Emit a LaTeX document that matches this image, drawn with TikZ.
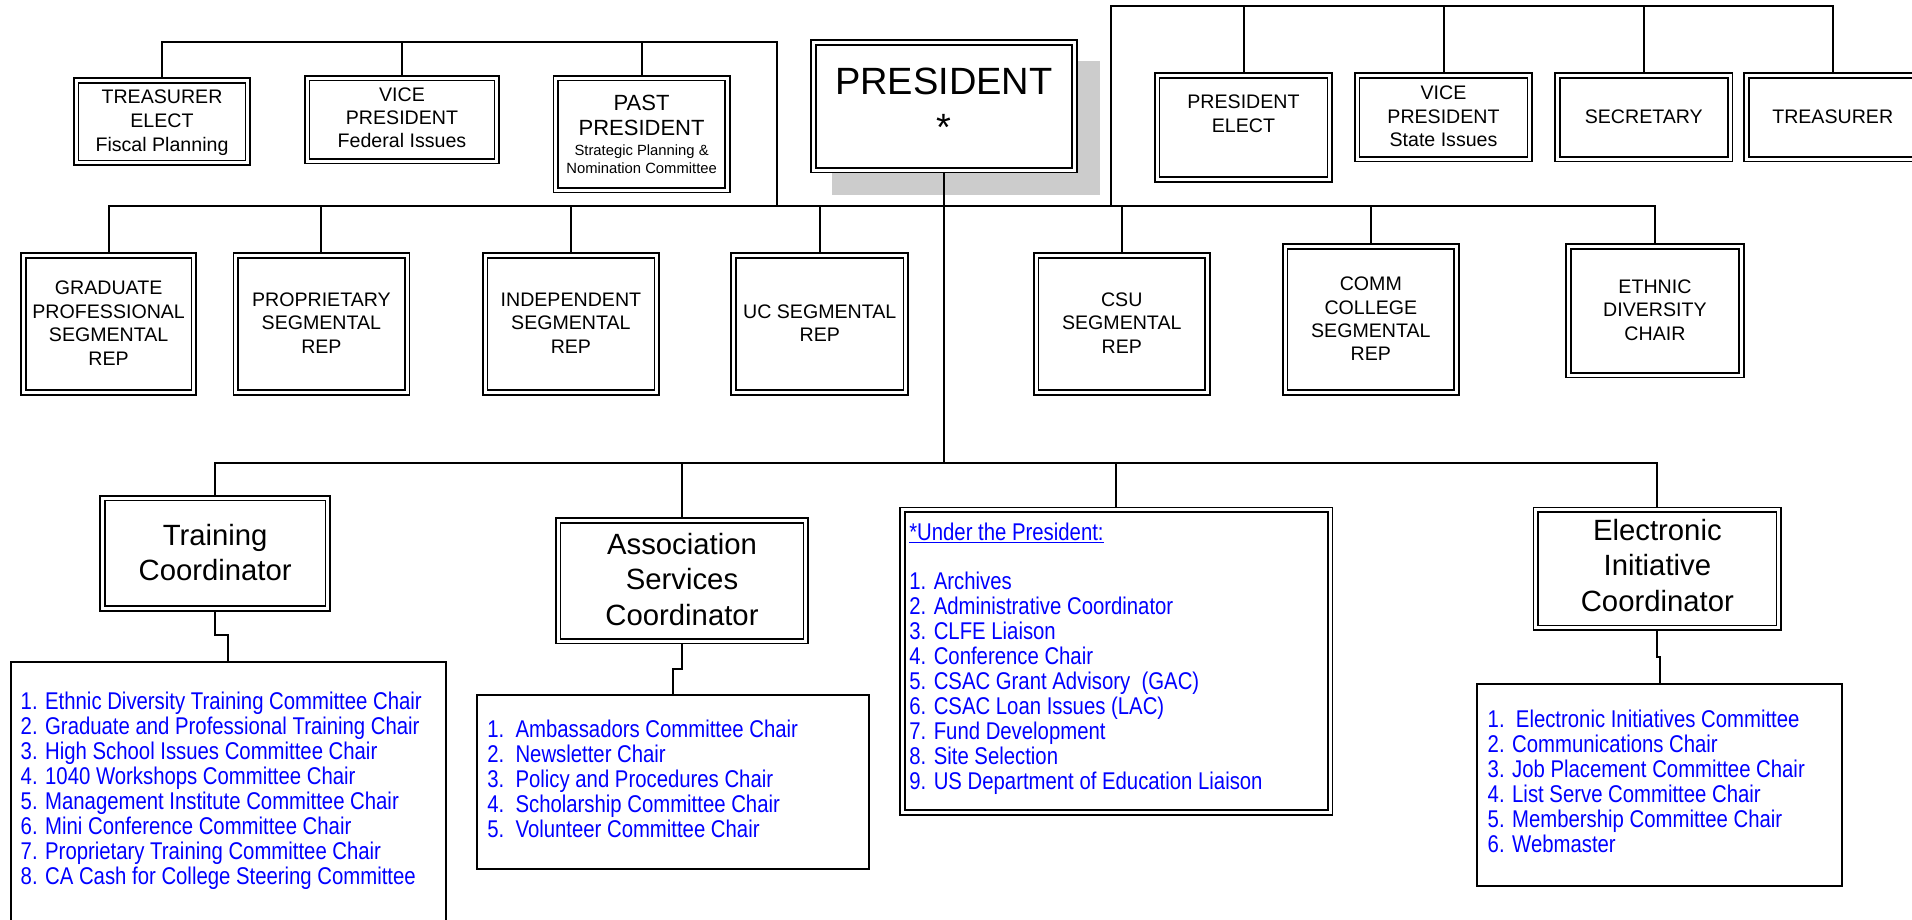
\documentclass[tikz,border=0pt]{standalone}
\usepackage{fontspec}
\setmainfont{Liberation Sans}
\newfontfamily\narrowfont[FakeStretch=0.84]{Liberation Sans}
\usetikzlibrary{calc}
\pgfdeclarelayer{bg}
\pgfsetlayers{bg,main}
\newcommand\cbox[1]{\begin{tabular}[b]{@{}c@{}}#1\end{tabular}}
\newcommand\lbox[2]{\makebox[#1][l]{\begin{tabular}[b]{@{}l@{}}#2\end{tabular}}}
\begin{document}
\begin{tikzpicture}[x=1pt,y=-1pt,
  dbox/.style={draw, line width=1.7pt, double=white, double distance=3pt, fill=white,
    inner sep=0pt, font=\fontsize{19.6}{23.35}\selectfont, text depth=0pt},
  listbox/.style={draw, line width=2pt, fill=white, inner sep=0pt, text=blue,
    font=\narrowfont\fontsize{24.2}{24.66}\selectfont, text depth=0pt},
  conn/.style={line width=2pt},
  big/.style={font=\fontsize{29.3}{35.5}\selectfont}]
\useasboundingbox (0,0) rectangle (1912,920);
\clip (0,0) rectangle (1912,920);

% ---- top left group
\node[dbox, minimum width=171.6pt, minimum height=82.3pt, font=\fontsize{19.6}{24.2}\selectfont, text height=60pt]
  (te) at (162,121.65) {\cbox{TREASURER\\ELECT\\Fiscal Planning}};
\node[dbox, minimum width=189.6pt, minimum height=82.9pt, font=\fontsize{19.6}{23}\selectfont, text height=56.1pt]
  (vpf) at (402,119.65) {\cbox{VICE\\PRESIDENT\\Federal Issues}};
\node[dbox, minimum width=171.6pt, minimum height=111.9pt, font=\fontsize{22}{25}\selectfont, text height=78.3pt]
  (pp) at (641.6,134.15) {\cbox{PAST\\PRESIDENT\\\fontsize{14.8}{18}\selectfont\cbox{Strategic Planning \&\\Nomination Committee}}};

% ---- president
\node[dbox, minimum width=260.8pt, minimum height=127.6pt, font=\fontsize{38}{46}\selectfont, text height=69.4pt]
  (pres) at (943.9,106.3) {\cbox{PRESIDENT\\{*}}};

% ---- top right group
\node[dbox, minimum width=172.6pt, minimum height=104pt, font=\fontsize{19.6}{24.4}\selectfont, text height=10.4pt]
  (pe) at (1243.5,127.5) {\cbox{PRESIDENT\\ELECT}};
\node[dbox, minimum width=172.6pt, minimum height=83.6pt, text height=58.8pt]
  (vps) at (1443.5,117.3) {\cbox{VICE\\PRESIDENT\\State Issues}};
\node[dbox, minimum width=172.6pt, minimum height=83.6pt, text height=12pt]
  (sec) at (1643.8,117.3) {\cbox{SECRETARY}};
\node[dbox, minimum width=172.6pt, minimum height=83.6pt, text height=12pt]
  (treas) at (1832.7,117.3) {\cbox{TREASURER}};

% ---- second row
\node[dbox, minimum width=170.5pt, minimum height=137pt, text height=82pt]
  (gpsr) at (108.65,324) {\cbox{GRADUATE\\PROFESSIONAL\\SEGMENTAL\\REP}};
\node[dbox, minimum width=171.2pt, minimum height=137pt, text height=58.6pt]
  (psr) at (321.4,324) {\cbox{PROPRIETARY\\SEGMENTAL\\REP}};
\node[dbox, minimum width=171.8pt, minimum height=137pt, text height=58.6pt]
  (isr) at (570.9,324) {\cbox{INDEPENDENT\\SEGMENTAL\\REP}};
\node[dbox, minimum width=172.3pt, minimum height=137pt, text height=35.4pt]
  (ucsr) at (819.75,324) {\cbox{UC SEGMENTAL\\REP}};
\node[dbox, minimum width=171.5pt, minimum height=137pt, text height=58.6pt]
  (csu) at (1121.75,324) {\cbox{CSU\\SEGMENTAL\\REP}};
\node[dbox, minimum width=171.5pt, minimum height=146pt, text height=82.4pt]
  (comm) at (1370.85,319.5) {\cbox{COMM\\COLLEGE\\SEGMENTAL\\REP}};
\node[dbox, minimum width=172.7pt, minimum height=128.6pt, text height=58.4pt]
  (eth) at (1654.95,310.8) {\cbox{ETHNIC\\DIVERSITY\\CHAIR}};

% ---- coordinators
\node[dbox, big, minimum width=225.3pt, minimum height=110.3pt, font=\fontsize{29.3}{35}\selectfont, text height=53.3pt]
  (tc) at (215.15,553.35) {\cbox{Training\\Coordinator}};
\node[dbox, big, minimum width=247.6pt, minimum height=120.6pt, text height=88.4pt]
  (asc) at (682,580.8) {\cbox{Association\\Services\\Coordinator}};
\node[dbox, big, minimum width=242.9pt, minimum height=117.9pt, font=\fontsize{29.3}{35.85}\selectfont, text height=85.7pt]
  (ei) at (1657.35,568.85) {\cbox{Electronic\\Initiative\\Coordinator}};

% ---- under the president
\node[dbox, minimum width=427.6pt, minimum height=302.6pt, text=blue,
  font=\narrowfont\fontsize{24.2}{24.6}\selectfont, text height=256.2pt]
  (up) at (1116.3,661.2) {\lbox{414pt}{\underline{*Under the President:}\\ \\
  1. Archives\\
  2. Administrative Coordinator\\
  3. CLFE Liaison\\
  4. Conference Chair\\
  5. CSAC Grant Advisory\ \ (GAC)\\
  6. CSAC Loan Issues (LAC)\\
  7. Fund Development\\
  8. Site Selection\\
  9. US Department of Education Liaison}};

% ---- lists
\node[listbox, minimum width=435.3pt, minimum height=278.3pt, text height=166.9pt]
  (tl) at (228.35,800.85) {\lbox{415.3pt}{%
  1. Ethnic Diversity Training Committee Chair\\
  2. Graduate and Professional Training Chair\\
  3. High School Issues Committee Chair\\
  4. 1040 Workshops Committee Chair\\
  5. Management Institute Committee Chair\\
  6. Mini Conference Committee Chair\\
  7. Proprietary Training Committee Chair\\
  8. CA Cash for College Steering Committee}};
\node[listbox, minimum width=392.3pt, minimum height=174pt, text height=110.6pt,
  font=\narrowfont\fontsize{24.2}{24.75}\selectfont]
  (al) at (672.85,782) {\lbox{371.1pt}{%
  1.\ \ Ambassadors Committee Chair\\
  2.\ \ Newsletter Chair\\
  3.\ \ Policy and Procedures Chair\\
  4.\ \ Scholarship Committee Chair\\
  5.\ \ Volunteer Committee Chair}};
\node[listbox, minimum width=365pt, minimum height=202pt, text height=134.6pt,
  font=\narrowfont\fontsize{24.2}{24.6}\selectfont]
  (el) at (1659.5,785) {\lbox{343.6pt}{%
  1.\ \ Electronic Initiatives Committee\\
  2. Communications Chair\\
  3. Job Placement Committee Chair\\
  4. List Serve Committee Chair\\
  5. Membership Committee Chair\\
  6. Webmaster}};

% ---- connectors and shadow (behind the boxes)
\coordinate (bus1) at (0,41.7);
\coordinate (bus2) at (0,206);
\coordinate (bus3) at (0,462.7);
\coordinate (tlc) at (777,41.7);
\coordinate (trc) at (1110.7,6);
\begin{pgfonlayer}{bg}
\fill[white] (0,0) rectangle (1912,920);
\fill[gray!40] (832.3,61.3) rectangle (1099.5,195.3);
\draw[conn] (te.north) |- (tlc) -- (tlc |- bus2);
\draw[conn] (vpf.north) -- (vpf.north |- bus1);
\draw[conn] (pp.north) -- (pp.north |- bus1);
\draw[conn] (trc |- bus2) -- (trc) -| (treas.north);
\draw[conn] (pe.north) -- (pe.north |- trc);
\draw[conn] (vps.north) -- (vps.north |- trc);
\draw[conn] (sec.north) -- (sec.north |- trc);
\draw[conn] (gpsr.north) |- (eth.north |- bus2) -- (eth.north);
\draw[conn] (psr.north) -- (psr.north |- bus2);
\draw[conn] (isr.north) -- (isr.north |- bus2);
\draw[conn] (ucsr.north) -- (ucsr.north |- bus2);
\draw[conn] (csu.north) -- (csu.north |- bus2);
\draw[conn] (comm.north) -- (comm.north |- bus2);
\draw[conn] (pres.south) -- (pres.south |- bus3);
\draw[conn] (tc.north) |- (ei.north |- bus3) -- (ei.north);
\draw[conn] (asc.north) -- (asc.north |- bus3);
\draw[conn] (up.north) -- (up.north |- bus3);
\draw[conn] (tc.south) -- (tc.south |- 0,635) -| (tl.north);
\draw[conn] (asc.south) -- (asc.south |- 0,668.7) -| (al.north);
\draw[conn] (ei.south) -- (ei.south |- 0,657.3) -| (el.north);
\end{pgfonlayer}
\end{tikzpicture}
\end{document}
